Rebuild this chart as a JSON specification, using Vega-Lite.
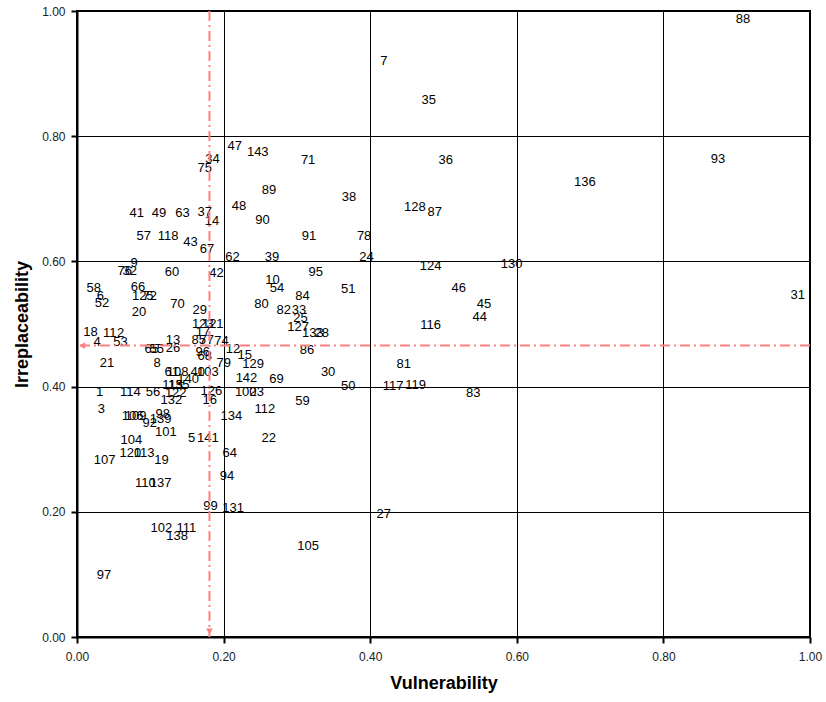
{
  "$schema": "https://vega.github.io/schema/vega-lite/v6.json",
  "width": 733,
  "height": 626,
  "autosize": {"type": "none"},
  "padding": {"left": 77, "top": 11, "right": 16, "bottom": 65},
  "background": "white",
  "config": {"view": {"stroke": "black", "strokeWidth": 2}, "font": "Liberation Sans"},
  "datasets": {
    "pts": [
      {"id": "88", "v": 0.9086, "i": 0.9873},
      {"id": "7", "v": 0.4186, "i": 0.9202},
      {"id": "35", "v": 0.48, "i": 0.8579},
      {"id": "93", "v": 0.8744, "i": 0.7637},
      {"id": "136", "v": 0.6929, "i": 0.727},
      {"id": "36", "v": 0.5032, "i": 0.7621},
      {"id": "47", "v": 0.2152, "i": 0.7845},
      {"id": "143", "v": 0.2466, "i": 0.7749},
      {"id": "34", "v": 0.1848, "i": 0.7632},
      {"id": "75", "v": 0.1743, "i": 0.7498},
      {"id": "71", "v": 0.3153, "i": 0.7621},
      {"id": "89", "v": 0.262, "i": 0.7142},
      {"id": "38", "v": 0.3712, "i": 0.7035},
      {"id": "128", "v": 0.4609, "i": 0.6875},
      {"id": "87", "v": 0.4882, "i": 0.6786},
      {"id": "48", "v": 0.2211, "i": 0.6891},
      {"id": "41", "v": 0.0815, "i": 0.678},
      {"id": "49", "v": 0.1119, "i": 0.678},
      {"id": "63", "v": 0.1438, "i": 0.678},
      {"id": "37", "v": 0.1743, "i": 0.6791},
      {"id": "14", "v": 0.1842, "i": 0.6652},
      {"id": "90", "v": 0.253, "i": 0.6663},
      {"id": "57", "v": 0.091, "i": 0.6412},
      {"id": "118", "v": 0.1242, "i": 0.6412},
      {"id": "43", "v": 0.1548, "i": 0.6307},
      {"id": "67", "v": 0.1774, "i": 0.6195},
      {"id": "62", "v": 0.2121, "i": 0.6077},
      {"id": "91", "v": 0.3166, "i": 0.6412},
      {"id": "78", "v": 0.3917, "i": 0.6412},
      {"id": "39", "v": 0.2661, "i": 0.6077},
      {"id": "24", "v": 0.395, "i": 0.6077},
      {"id": "124", "v": 0.4823, "i": 0.5933},
      {"id": "130", "v": 0.5929, "i": 0.5956},
      {"id": "9", "v": 0.0778, "i": 0.5972},
      {"id": "76", "v": 0.0651, "i": 0.5849},
      {"id": "32", "v": 0.0719, "i": 0.5849},
      {"id": "60", "v": 0.1297, "i": 0.5828},
      {"id": "42", "v": 0.1903, "i": 0.5812},
      {"id": "58", "v": 0.0228, "i": 0.5582},
      {"id": "6", "v": 0.0319, "i": 0.545},
      {"id": "52", "v": 0.0341, "i": 0.5333},
      {"id": "66", "v": 0.0833, "i": 0.5588},
      {"id": "125", "v": 0.0897, "i": 0.545},
      {"id": "72", "v": 0.0992, "i": 0.545},
      {"id": "20", "v": 0.0846, "i": 0.5199},
      {"id": "70", "v": 0.137, "i": 0.5322},
      {"id": "29", "v": 0.1675, "i": 0.5226},
      {"id": "123", "v": 0.1716, "i": 0.4998},
      {"id": "121", "v": 0.1852, "i": 0.4998},
      {"id": "18", "v": 0.0183, "i": 0.487},
      {"id": "11", "v": 0.0446, "i": 0.4859},
      {"id": "2", "v": 0.0596, "i": 0.4859},
      {"id": "17", "v": 0.172, "i": 0.488},
      {"id": "4", "v": 0.0273, "i": 0.472},
      {"id": "53", "v": 0.0592, "i": 0.472},
      {"id": "13", "v": 0.131, "i": 0.4747},
      {"id": "85", "v": 0.1661, "i": 0.4747},
      {"id": "77", "v": 0.177, "i": 0.4747},
      {"id": "74", "v": 0.1971, "i": 0.4736},
      {"id": "65", "v": 0.102, "i": 0.4603},
      {"id": "55", "v": 0.1088, "i": 0.4603},
      {"id": "26", "v": 0.131, "i": 0.4614},
      {"id": "12", "v": 0.2129, "i": 0.4603},
      {"id": "15", "v": 0.2289, "i": 0.4507},
      {"id": "96", "v": 0.1716, "i": 0.4555},
      {"id": "68", "v": 0.1743, "i": 0.4491},
      {"id": "8", "v": 0.1092, "i": 0.4375},
      {"id": "21", "v": 0.0409, "i": 0.4375},
      {"id": "79", "v": 0.2002, "i": 0.4375},
      {"id": "129", "v": 0.2402, "i": 0.4359},
      {"id": "61", "v": 0.1292, "i": 0.4236},
      {"id": "108", "v": 0.1374, "i": 0.4236},
      {"id": "40", "v": 0.1647, "i": 0.4236},
      {"id": "103", "v": 0.1784, "i": 0.4236},
      {"id": "140", "v": 0.1515, "i": 0.4124},
      {"id": "142", "v": 0.2312, "i": 0.4135},
      {"id": "115", "v": 0.1306, "i": 0.4028},
      {"id": "135", "v": 0.1388, "i": 0.4028},
      {"id": "1", "v": 0.031, "i": 0.3912},
      {"id": "114", "v": 0.0729, "i": 0.3906},
      {"id": "56", "v": 0.1037, "i": 0.3906},
      {"id": "122", "v": 0.1347, "i": 0.3896},
      {"id": "126", "v": 0.1834, "i": 0.3922},
      {"id": "100", "v": 0.2302, "i": 0.3906},
      {"id": "23", "v": 0.2453, "i": 0.3906},
      {"id": "69", "v": 0.2721, "i": 0.412},
      {"id": "30", "v": 0.3426, "i": 0.4241},
      {"id": "50", "v": 0.3699, "i": 0.4017},
      {"id": "81", "v": 0.4459, "i": 0.4359},
      {"id": "117", "v": 0.4313, "i": 0.4012},
      {"id": "119", "v": 0.4618, "i": 0.4024},
      {"id": "83", "v": 0.5405, "i": 0.3896},
      {"id": "59", "v": 0.3076, "i": 0.3768},
      {"id": "112", "v": 0.2562, "i": 0.365},
      {"id": "22", "v": 0.2616, "i": 0.3182},
      {"id": "86", "v": 0.3139, "i": 0.4587},
      {"id": "127", "v": 0.3016, "i": 0.4959},
      {"id": "25", "v": 0.3049, "i": 0.5093},
      {"id": "82", "v": 0.2821, "i": 0.5226},
      {"id": "33", "v": 0.303, "i": 0.5226},
      {"id": "133", "v": 0.3217, "i": 0.4859},
      {"id": "28", "v": 0.334, "i": 0.4859},
      {"id": "84", "v": 0.3076, "i": 0.545},
      {"id": "95", "v": 0.3258, "i": 0.5828},
      {"id": "10", "v": 0.2667, "i": 0.5705},
      {"id": "54", "v": 0.273, "i": 0.5582},
      {"id": "51", "v": 0.3699, "i": 0.5561},
      {"id": "80", "v": 0.2517, "i": 0.5317},
      {"id": "46", "v": 0.5209, "i": 0.5572},
      {"id": "45", "v": 0.5551, "i": 0.5322},
      {"id": "44", "v": 0.5496, "i": 0.5109},
      {"id": "116", "v": 0.4823, "i": 0.4986},
      {"id": "31", "v": 0.9832, "i": 0.5466},
      {"id": "3", "v": 0.0333, "i": 0.364},
      {"id": "106", "v": 0.076, "i": 0.3533},
      {"id": "109", "v": 0.0801, "i": 0.3533},
      {"id": "98", "v": 0.117, "i": 0.3565},
      {"id": "139", "v": 0.1142, "i": 0.3486},
      {"id": "92", "v": 0.0992, "i": 0.3417},
      {"id": "132", "v": 0.1288, "i": 0.3778},
      {"id": "16", "v": 0.1811, "i": 0.3778},
      {"id": "134", "v": 0.2107, "i": 0.3538},
      {"id": "101", "v": 0.1211, "i": 0.3273},
      {"id": "104", "v": 0.0742, "i": 0.315},
      {"id": "5", "v": 0.1565, "i": 0.3177},
      {"id": "141", "v": 0.1784, "i": 0.3177},
      {"id": "64", "v": 0.2084, "i": 0.2938},
      {"id": "120", "v": 0.0729, "i": 0.2938},
      {"id": "113", "v": 0.0914, "i": 0.2938},
      {"id": "107", "v": 0.0378, "i": 0.282},
      {"id": "19", "v": 0.1152, "i": 0.282},
      {"id": "110", "v": 0.0934, "i": 0.2459},
      {"id": "137", "v": 0.1142, "i": 0.2459},
      {"id": "94", "v": 0.2047, "i": 0.2564},
      {"id": "99", "v": 0.1821, "i": 0.2085},
      {"id": "131", "v": 0.2129, "i": 0.206},
      {"id": "102", "v": 0.1152, "i": 0.174},
      {"id": "111", "v": 0.1493, "i": 0.174},
      {"id": "138", "v": 0.1365, "i": 0.1606},
      {"id": "105", "v": 0.3153, "i": 0.1458},
      {"id": "97", "v": 0.0368, "i": 0.0984},
      {"id": "27", "v": 0.4186, "i": 0.1964}
    ]
  },
  "layer": [
    {
      "data": {"name": "pts"},
      "mark": {"type": "text", "fontSize": 13, "font": "Liberation Sans", "color": "black", "align": "center", "baseline": "middle"},
      "encoding": {
        "x": {
          "field": "v", "type": "quantitative", "title": "Vulnerability",
          "scale": {"domain": [0, 1], "nice": false, "zero": false},
          "axis": {
            "values": [0, 0.2, 0.4, 0.6, 0.8, 1], "format": ".2f",
            "grid": true, "gridColor": "black", "gridWidth": 1, "gridOpacity": 1,
            "domainColor": "black", "domainWidth": 2,
            "tickColor": "black", "tickWidth": 2, "tickSize": 6,
            "labelFont": "Liberation Sans", "labelFontSize": 12, "labelColor": "#222222", "labelPadding": 8, "labelFlush": false,
            "titleFont": "Liberation Sans", "titleFontSize": 18, "titleFontWeight": "bold", "titleColor": "black", "titlePadding": 12
          }
        },
        "y": {
          "field": "i", "type": "quantitative", "title": "Irreplaceability",
          "scale": {"domain": [0, 1], "nice": false, "zero": false},
          "axis": {
            "values": [0, 0.2, 0.4, 0.6, 0.8, 1], "format": ".2f",
            "grid": true, "gridColor": "black", "gridWidth": 1, "gridOpacity": 1,
            "domainColor": "black", "domainWidth": 2,
            "tickColor": "black", "tickWidth": 2, "tickSize": 6,
            "labelFont": "Liberation Sans", "labelFontSize": 12, "labelColor": "#222222", "labelPadding": 6, "labelFlush": false,
            "titleFont": "Liberation Sans", "titleFontSize": 18, "titleFontWeight": "bold", "titleColor": "black", "titlePadding": 10
          }
        },
        "text": {"field": "id", "type": "nominal"}
      }
    },
    {
      "data": {"values": [{"v": 0.1807, "i": 1, "i2": 0}]},
      "mark": {"type": "rule", "color": "#ff8080", "strokeWidth": 2, "strokeDash": [10, 4, 2, 4]},
      "encoding": {
        "x": {"field": "v", "type": "quantitative", "title": "Vulnerability"},
        "y": {"field": "i", "type": "quantitative", "title": "Irreplaceability"},
        "y2": {"field": "i2"}
      }
    },
    {
      "data": {"values": [{"v": 1, "v2": 0, "i": 0.4656}]},
      "mark": {"type": "rule", "color": "#ff8080", "strokeWidth": 2, "strokeDash": [10, 4, 2, 4]},
      "encoding": {
        "x": {"field": "v", "type": "quantitative", "title": "Vulnerability"},
        "x2": {"field": "v2"},
        "y": {"field": "i", "type": "quantitative", "title": "Irreplaceability"}
      }
    },
    {
      "data": {"values": [{"v": 0.1807, "i": 0.009, "s": "triangle-down"}, {"v": 0.007, "i": 0.4656, "s": "triangle-left"}]},
      "mark": {"type": "point", "filled": true, "color": "#ff8080", "size": 45, "opacity": 1},
      "encoding": {
        "x": {"field": "v", "type": "quantitative", "title": "Vulnerability"},
        "y": {"field": "i", "type": "quantitative", "title": "Irreplaceability"},
        "shape": {"field": "s", "type": "nominal", "scale": null}
      }
    }
  ]
}
